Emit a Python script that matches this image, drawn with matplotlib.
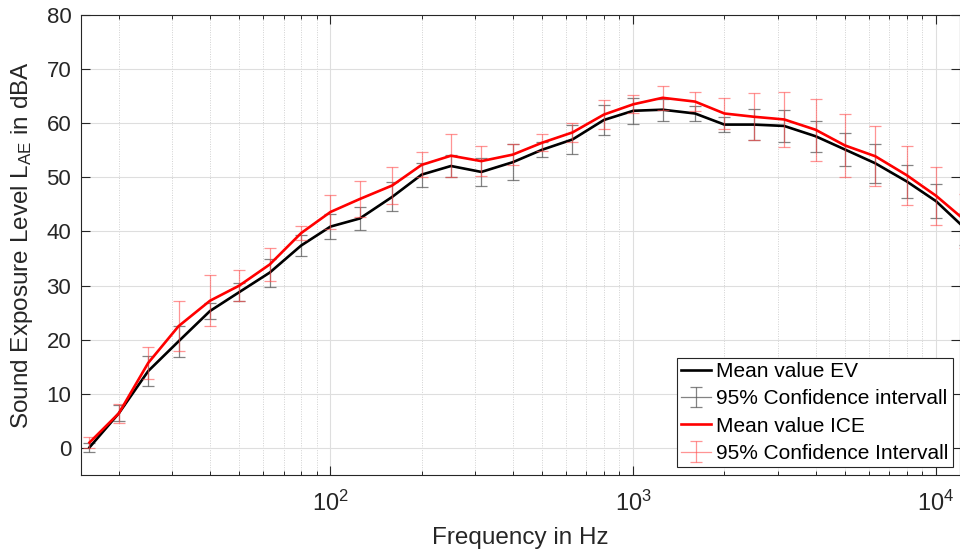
import matplotlib
matplotlib.use("Agg")
import matplotlib.pyplot as plt
from matplotlib.ticker import LogLocator, FuncFormatter, NullFormatter
import numpy as np

plt.rcParams['font.family'] = ['Liberation Sans', 'DejaVu Sans']
plt.rcParams['mathtext.fontset'] = 'custom'
plt.rcParams['mathtext.rm'] = 'Liberation Sans'
plt.rcParams['mathtext.it'] = 'Liberation Sans:italic'
plt.rcParams['mathtext.bf'] = 'Liberation Sans:bold'
plt.rcParams['mathtext.default'] = 'regular'

# Third-octave band centre frequencies (Hz)
freqs = [16, 20, 25, 31.5, 40, 50, 63, 80, 100, 125, 160, 200, 250, 315, 400,
         500, 630, 800, 1000, 1250, 1600, 2000, 2500, 3150, 4000, 5000, 6300,
         8000, 10000, 12500]

# EV: mean sound exposure level and 95 % confidence half-width (dBA)
ev_mean = [0.1, 6.4, 14.2, 19.7, 25.3, 28.8, 32.4, 37.4, 40.9, 42.4, 46.4, 50.5,
           52.1, 51.0, 52.8, 55.1, 57.0, 60.6, 62.3, 62.5, 61.8, 59.75, 59.75,
           59.5, 57.6, 55.15, 52.6, 49.25, 45.6, 40.5]
ev_ci = [0.8, 1.5, 2.7, 2.9, 1.5, 1.6, 2.6, 2.0, 2.3, 2.1, 2.65, 2.2, 2.0, 2.55,
         3.3, 1.4, 2.6, 2.8, 2.45, 2.0, 1.3, 1.4, 2.8, 3.0, 2.85, 3.1, 3.6, 3.1,
         3.2, 3.0]

# ICE: mean sound exposure level and 95 % confidence half-width (dBA)
ice_mean = [1.0, 6.4, 15.7, 22.5, 27.2, 30.0, 33.9, 39.7, 43.6, 46.0, 48.5, 52.3,
            54.0, 53.0, 54.2, 56.4, 58.3, 61.6, 63.5, 64.7, 64.0, 61.8, 61.2,
            60.7, 58.8, 55.9, 53.9, 50.4, 46.6, 42.0]
ice_ci = [1.0, 1.8, 3.0, 4.65, 4.7, 2.8, 3.1, 1.3, 3.1, 3.3, 3.4, 2.3, 4.0, 2.8,
          2.0, 1.6, 1.75, 2.7, 1.7, 2.2, 1.7, 2.8, 4.3, 5.1, 5.7, 5.75, 5.5, 5.45,
          5.4, 5.0]

axis_col = (0.15, 0.15, 0.15)

fig = plt.figure(figsize=(9.6, 5.51), dpi=100)
ax = fig.add_axes([81 / 960, 1 - 475 / 551, 879 / 960, 460 / 551])

# Mean curves and confidence intervals
h_ev, = ax.plot(freqs, ev_mean, color='black', lw=1.9, zorder=4,
                label='Mean value EV')
h_ev_ci = ax.errorbar(freqs, ev_mean, yerr=ev_ci, fmt='-', color=(0.35, 0.35, 0.35),
                      lw=0.9, elinewidth=0.9, capsize=4, capthick=0.9, alpha=0.75,
                      zorder=3, label='95% Confidence intervall')
h_ice, = ax.plot(freqs, ice_mean, color='red', lw=1.9, zorder=6,
                 label='Mean value ICE')
h_ice_ci = ax.errorbar(freqs, ice_mean, yerr=ice_ci, fmt='-', color=(1.0, 0.3, 0.3),
                       lw=0.9, elinewidth=0.9, capsize=4, capthick=0.9, alpha=0.6,
                       zorder=5, label='95% Confidence Intervall')

ax.set_xscale('log')
ax.set_xlim(15, 12000)
ax.set_ylim(-5, 80)
ax.set_yticks(np.arange(0, 81, 10))

ax.xaxis.set_major_locator(LogLocator(base=10, numticks=10))
ax.xaxis.set_minor_locator(LogLocator(base=10, subs=np.arange(2, 10), numticks=20))
ax.xaxis.set_major_formatter(FuncFormatter(lambda v, p: r'$10^{%d}$' % round(np.log10(v))))
ax.xaxis.set_minor_formatter(NullFormatter())

ax.grid(True, which='major', axis='both', color=(0.87, 0.87, 0.87), lw=0.8, zorder=0)
ax.grid(True, which='minor', axis='x', color=(0.82, 0.82, 0.82), lw=0.7,
        linestyle=(0, (1, 1.5)), zorder=0)
ax.set_axisbelow(True)

ax.tick_params(which='both', direction='in', top=True, right=True,
               colors=axis_col, labelcolor=axis_col)
ax.tick_params(which='major', length=6.5, width=0.8, labelsize=16, pad=7)
ax.tick_params(which='minor', length=3, width=0.7)
ax.tick_params(axis='x', which='major', labelsize=17, pad=11)
for s in ax.spines.values():
    s.set_color(axis_col)
    s.set_linewidth(0.8)

ax.set_xlabel('Frequency in Hz', fontsize=17.5, color=axis_col, labelpad=8)
ax.set_ylabel(r'Sound Exposure Level L$_{AE}$ in dBA', fontsize=17.5,
              color=axis_col, labelpad=8)

leg = ax.legend(handles=[h_ev, h_ev_ci, h_ice, h_ice_ci],
                loc='lower right', bbox_to_anchor=(0.992, 0.017),
                borderaxespad=0, fontsize=15, frameon=True, fancybox=False,
                edgecolor=axis_col, framealpha=1, handlelength=1.45,
                handletextpad=0.25, labelspacing=0.4, borderpad=0.2)
leg.get_frame().set_linewidth(0.8)
leg.set_zorder(10)

fig.savefig('out.png', dpi=100)
